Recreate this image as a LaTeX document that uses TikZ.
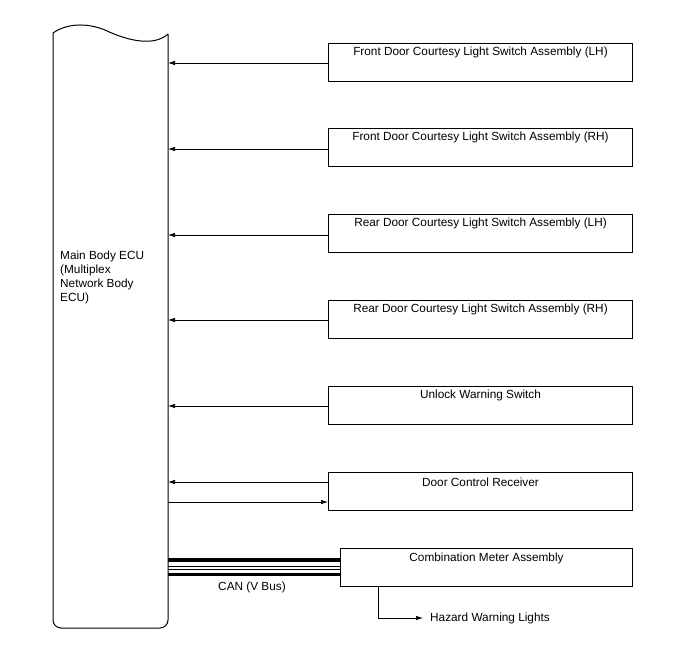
\documentclass[tikz,border=0pt]{standalone}
\usepackage{fontspec}
\setmainfont{Liberation Sans}
\usetikzlibrary{arrows.meta}
\begin{document}
\begin{tikzpicture}[x=1pt,y=-1pt,
  box/.style={draw,line width=1pt,minimum width=304pt,minimum height=38pt,anchor=north west,inner sep=0pt},
  lbl/.style={font=\fontsize{11.8}{14}\selectfont},
  conn/.style={line width=0.7pt,-{Latex[length=7pt,width=4.5pt]}}]
\useasboundingbox (0,0) rectangle (688,658);
% ECU shape
\draw[line width=1pt] (168,34) -- (168,620) arc[start angle=0,end angle=-90,radius=8pt] -- (61,628) arc[start angle=-90,end angle=-180,radius=8pt] -- (53,33)
  .. controls (66,24) and (85,22) .. (105,30) .. controls (130,42) and (155,46) .. (168,34);
\node[lbl,align=left,anchor=north west,inner sep=0pt] (ecut) at (60,251) {Main Body ECU\\(Multiplex\\Network Body\\ECU)};
% boxes
\node[box] (b1) at (328,43) {};
\node[box] (b2) at (328,128) {};
\node[box] (b3) at (328,214) {};
\node[box] (b4) at (328,300) {};
\node[box] (b5) at (328,386) {};
\node[box] (b6) at (328,472) {};
\node[box,minimum width=292pt] (b7) at (340,548) {};
\node[lbl] (t1) at ([yshift=-9pt]b1.north) {Front Door Courtesy Light Switch Assembly (LH)};
\node[lbl] (t2) at ([yshift=-9pt]b2.north) {Front Door Courtesy Light Switch Assembly (RH)};
\node[lbl] (t3) at ([yshift=-9pt]b3.north) {Rear Door Courtesy Light Switch Assembly (LH)};
\node[lbl] (t4) at ([yshift=-9pt]b4.north) {Rear Door Courtesy Light Switch Assembly (RH)};
\node[lbl] (t5) at ([yshift=-9pt]b5.north) {Unlock Warning Switch};
\node[lbl] (t6) at ([yshift=-10pt]b6.north) {Door Control Receiver};
\node[lbl] (t7) at ([yshift=-10pt]b7.north) {Combination Meter Assembly};
% arrows
\foreach \b/\yy in {b1/63,b2/149,b3/235,b4/320,b5/406,b6/482}
  \draw[conn] (\b.west |- 0,\yy) -- (168,\yy);
\draw[conn] (168,502) -- (b6.west |- 0,502);
% CAN bus
\draw[line width=3.5pt] (168,560) -- (b7.west |- 0,560);
\draw[line width=0.8pt] (168,566) -- (b7.west |- 0,566);
\draw[line width=0.8pt] (168,569.5) -- (b7.west |- 0,569.5);
\draw[line width=3.5pt] (168,574.5) -- (b7.west |- 0,574.5);
\node[lbl] (can) at (252,587) {CAN (V Bus)};
% hazard
\node[lbl,anchor=west,inner sep=0pt] (hz) at (430,618) {Hazard Warning Lights};
\draw[conn] (b7.south west -| 378,0) -- (378,618) -- (423,618);
\end{tikzpicture}
\end{document}
